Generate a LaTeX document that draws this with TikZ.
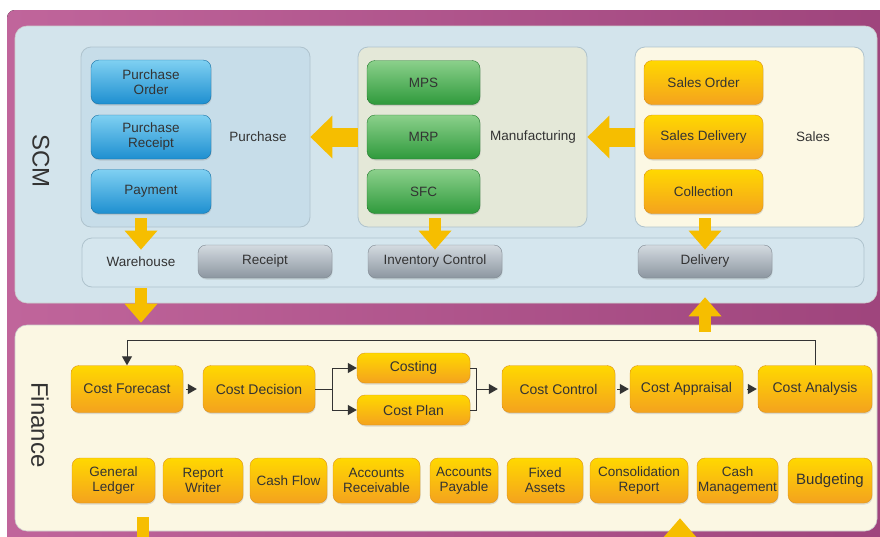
\documentclass[tikz,border=0pt]{standalone}
\usepackage{fontspec}
\setmainfont{Liberation Sans}
\usetikzlibrary{arrows.meta,shadows}
\definecolor{frameL}{HTML}{C0659B}
\definecolor{frameR}{HTML}{9E447C}
\definecolor{scmbg}{HTML}{D3E4EC}
\definecolor{finbg}{HTML}{FBF7E3}
\definecolor{purbg}{HTML}{C7DDE9}
\definecolor{mfgbg}{HTML}{E4E8D8}
\definecolor{salbg}{HTML}{FCF8E4}
\definecolor{bandbg}{HTML}{D5E6EE}
\definecolor{grpedge}{HTML}{AFC3CD}
\definecolor{btop}{HTML}{7FD0F2}
\definecolor{bbot}{HTML}{1E8FD0}
\definecolor{gtop}{HTML}{8BD08B}
\definecolor{gbot}{HTML}{2F9A3C}
\definecolor{ytop}{HTML}{FFD800}
\definecolor{ybot}{HTML}{F4A21E}
\definecolor{stop}{HTML}{D3DAE0}
\definecolor{sbot}{HTML}{8C96A0}
\definecolor{arrowc}{HTML}{F6BE00}
\definecolor{txt}{HTML}{333333}
\begin{document}
\begin{tikzpicture}[x=1pt,y=-1pt,
    panel/.style={rounded corners=12pt, draw=white!60!gray, line width=0.6pt},
    grp/.style={rounded corners=10pt, draw=grpedge, line width=0.8pt},
    box/.style={rounded corners=8pt, align=center, text=txt, inner sep=1pt,
      font=\fontsize{13.5}{15}\selectfont,
      drop shadow={opacity=0.25,shadow xshift=0.6pt,shadow yshift=-1.5pt}},
    bbox/.style={box, draw=bbot!80!black, top color=btop, bottom color=bbot},
    gbox/.style={box, draw=gbot!80!black, top color=gtop, bottom color=gbot},
    ybox/.style={box, draw=ybot!90!black, top color=ytop, bottom color=ybot},
    sbox/.style={box, draw=sbot!90!black, top color=stop, bottom color=sbot},
    lbl/.style={text=txt, font=\fontsize{13.5}{15}\selectfont},
    title/.style={text=txt, rotate=-90, font=\fontsize{24}{26}\selectfont},
    fat/.style={draw=arrowc, line width=12pt, -{Triangle[length=19pt,width=33pt,line width=0pt]}},
    bigfat/.style={draw=arrowc, line width=19pt, -{Triangle[length=22pt,width=43pt,line width=0pt]}},
    line/.style={draw=txt, line width=1pt},
    flow/.style={line, -{Triangle[length=9pt,width=10pt]}}]
\useasboundingbox (0,0) rectangle (880,536);
\clip (0,0) rectangle (880,536);
\fill[left color=frameL, right color=frameR, rounded corners=8pt] (7,10) rectangle (900,560);

\node[panel, fill=scmbg, minimum width=862pt, minimum height=277pt] (scm) at (446,164.5) {};
\node[panel, fill=finbg, minimum width=862pt, minimum height=206pt] (fin) at (446,428) {};
\node[title] (scml) at (41,161) {SCM};
\node[title] (finl) at (40,425) {Finance};

\node[grp, fill=purbg, minimum width=229pt, minimum height=180pt] (pur) at (195.5,137) {};
\node[grp, fill=mfgbg, minimum width=229pt, minimum height=180pt] (mfg) at (472.5,137) {};
\node[grp, fill=salbg, minimum width=229pt, minimum height=180pt] (sal) at (749.5,137) {};
\node[grp, fill=bandbg, minimum width=782pt, minimum height=49pt] (band) at (473,262.5) {};

\node[bbox, minimum width=120pt, minimum height=44pt] (po) at (151,82) {Purchase\\Order};
\node[bbox, minimum width=120pt, minimum height=44pt] (pr) at (151,137) {Purchase\\Receipt};
\node[bbox, minimum width=120pt, minimum height=44pt] (pay) at (151,191.5) {Payment};
\node[lbl] (purl) at (258,137) {Purchase};

\node[gbox, minimum width=113pt, minimum height=44pt] (mps) at (423.5,82.5) {MPS};
\node[gbox, minimum width=113pt, minimum height=44pt] (mrp) at (423.5,137) {MRP};
\node[gbox, minimum width=113pt, minimum height=44pt] (sfc) at (423.5,191.5) {SFC};
\node[lbl] (mfgl) at (533,137) {Manufacturing};

\node[ybox, minimum width=119pt, minimum height=44pt] (so) at (703.5,82.5) {Sales Order};
\node[ybox, minimum width=119pt, minimum height=44pt] (sd) at (703.5,137) {Sales Delivery};
\node[ybox, minimum width=119pt, minimum height=44pt] (col) at (703.5,191.5) {Collection};
\node[lbl] (sall) at (813,137) {Sales};

\node[lbl] (whl) at (141,262) {Warehouse};
\node[sbox, minimum width=134pt, minimum height=33pt] (rcp) at (265,261.5) {Receipt};
\node[sbox, minimum width=134pt, minimum height=33pt] (inv) at (435,261.5) {Inventory Control};
\node[sbox, minimum width=134pt, minimum height=33pt] (del) at (705,261.5) {Delivery};

\node[ybox, minimum width=112pt, minimum height=47pt, font=\fontsize{14}{16}\selectfont] (cf) at (127,389) {Cost Forecast};
\node[ybox, minimum width=112pt, minimum height=47pt, font=\fontsize{14}{16}\selectfont] (cd) at (259,389) {Cost Decision};
\node[ybox, minimum width=113pt, minimum height=30pt, font=\fontsize{14}{16}\selectfont] (cst) at (413.5,368) {Costing};
\node[ybox, minimum width=113pt, minimum height=30pt, font=\fontsize{14}{16}\selectfont] (cpl) at (413.5,410) {Cost Plan};
\node[ybox, minimum width=113pt, minimum height=47pt, font=\fontsize{14}{16}\selectfont] (cc) at (558.5,389) {Cost Control};
\node[ybox, minimum width=113pt, minimum height=47pt, font=\fontsize{14}{16}\selectfont] (cap) at (686.5,389) {Cost Appraisal};
\node[ybox, minimum width=114pt, minimum height=47pt, font=\fontsize{14}{16}\selectfont] (can) at (815,389) {Cost Analysis};

\node[ybox, minimum width=83pt, minimum height=45pt] (gl) at (113.5,480.5) {General\\Ledger};
\node[ybox, minimum width=80pt, minimum height=45pt] (rw) at (203,480.5) {Report\\Writer};
\node[ybox, minimum width=77pt, minimum height=45pt] (cfl) at (288.5,480.5) {Cash Flow};
\node[ybox, minimum width=87pt, minimum height=45pt] (ar) at (376.5,480.5) {Accounts\\Receivable};
\node[ybox, minimum width=68pt, minimum height=45pt] (ap) at (464,480.5) {Accounts\\Payable};
\node[ybox, minimum width=76pt, minimum height=45pt] (fa) at (545,480.5) {Fixed\\Assets};
\node[ybox, minimum width=98pt, minimum height=45pt] (cr) at (639,480.5) {Consolidation\\Report};
\node[ybox, minimum width=81pt, minimum height=45pt] (cm) at (737.5,480.5) {Cash\\Management};
\node[ybox, minimum width=84pt, minimum height=45pt, font=\fontsize{15}{17}\selectfont] (bud) at (830,480.5) {Budgeting};

\draw[bigfat] (mfg.west) -- (pur.east);
\draw[bigfat] (sal.west) -- (mfg.east);
\draw[fat, shorten <=-9pt, shorten >=-12pt] (pur.south -| whl) -- (band.north -| whl);
\draw[fat, shorten <=-9pt, shorten >=-12pt] (mfg.south -| inv) -- (band.north -| inv);
\draw[fat, shorten <=-9pt, shorten >=-12pt] (sal.south -| del) -- (band.north -| del);
\draw[fat, shorten <=-15pt, shorten >=2pt] (scm.south -| whl) -- (fin.north -| whl);
\draw[fat, shorten <=-7pt, shorten >=-6pt] (fin.north -| del) -- (scm.south -| del);
\coordinate (gout) at (143,560);
\coordinate (gin) at (680,560);
\draw[fat, shorten <=-14pt] (fin.south -| gout) -- (gout);
\draw[fat, shorten >=-13pt] (gin) -- (fin.south -| gin);

\draw[flow, shorten <=3pt, shorten >=6pt] (cf) -- (cd);
\draw[line] (cd.east) -- ++(17,0) coordinate (split);
\draw[flow] (split) |- (cst.west);
\draw[flow] (split) |- (cpl.west);
\draw[line] (cst.east) -- ++(6,0) coordinate (join) |- (cpl.east);
\draw[flow, shorten >=4pt] (join |- cc.west) -- (cc.west);
\draw[flow, shorten <=2pt, shorten >=1pt] (cc) -- (cap);
\draw[flow, shorten <=4pt, shorten >=1pt] (cap) -- (can);
\draw[flow] (can.north) -- ++(0,-25) -| (cf.north);
\end{tikzpicture}
\end{document}
